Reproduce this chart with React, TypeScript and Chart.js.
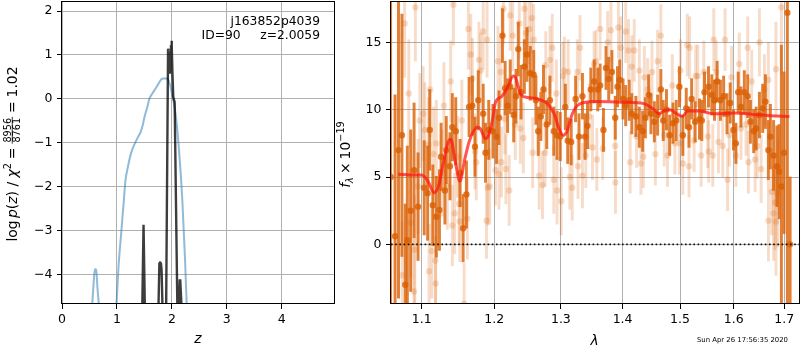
import React, { useEffect, useRef } from 'react';
import { Chart, registerables } from 'chart.js';
Chart.register(...registerables);

// ---------------- data ----------------
const Z_TICKS = [0, 1, 2, 3, 4];
const LOGP_TICKS = [-4, -3, -2, -1, 0, 1, 2];
const LAMBDA_TICKS = [1.1, 1.2, 1.3, 1.4, 1.5, 1.6, 1.7];
const FLUX_TICKS = [0, 5, 10, 15];

const Z_RANGE = [0, 4.95];
const LOGP_RANGE = [-4.677, 2.228];
const LAMBDA_RANGE = [1.0601, 1.7303];
const FLUX_RANGE = [-4.43, 18.07];

// log p(z) prior-ish curve (blue)
const PZ_Z = [0.54, 0.575, 0.595, 0.61, 0.625, 0.645, 0.685, 0.8, 0.985, 1.03, 1.076, 1.12, 1.155, 1.2, 1.246, 1.29, 1.337, 1.38, 1.43, 1.47, 1.5, 1.55, 1.59, 1.65, 1.7, 1.75, 1.805, 1.84, 1.915, 1.95, 1.976, 2.01, 2.05, 2.09, 2.13, 2.16, 2.19, 2.215, 2.24, 2.275];
const PZ_LOGP = [-4.9, -4.2, -3.92, -3.88, -3.92, -4.3, -4.9, null, -4.85, -3.8, -3.08, -2.4, -1.86, -1.55, -1.29, -1.12, -0.99, -0.88, -0.76, -0.6, -0.42, -0.2, 0.0, 0.13, 0.23, 0.33, 0.44, 0.46, 0.46, 0.38, 0.27, 0.05, -0.19, -0.6, -1.18, -1.7, -2.32, -3.0, -3.69, -4.9];

// log p(z) fit curve (black)
const CHI_Z = [1.46, 1.484, 1.492, 1.508, 1.6, 1.755, 1.772, 1.785, 1.8, 1.812, 1.83, 1.86, 1.895, 1.93, 1.936, 1.952, 1.964, 1.972, 1.984, 1.994, 2.0, 2.012, 2.025, 2.05, 2.1, 2.11, 2.125, 2.142, 2.152, 2.178];
const CHI_LOGP = [-4.8, -2.87, -2.87, -4.8, null, -4.8, -3.75, -3.73, -3.74, -3.9, -4.8, null, -4.8, 1.14, 1.1, 0.6, 1.05, 0.7, 1.2, 1.32, 1.2, 0.5, 0.04, -0.08, -4.8, null, -4.8, -4.14, -4.14, -4.8];

// spectrum 1 (dark)
const DARK_WAVE = [
  1.0596, 1.0653, 1.0697, 1.0741, 1.0784, 1.0811, 1.0855, 1.0899, 1.0951, 1.1032,
  1.1078, 1.1106, 1.1147, 1.1194, 1.1236, 1.1258, 1.1310, 1.1328, 1.1379, 1.1411,
  1.1458, 1.1518, 1.1560, 1.1606, 1.1643, 1.1689, 1.1726, 1.1772, 1.1842, 1.1875,
  1.1921, 1.1981, 1.2034, 1.2069, 1.2119, 1.2158, 1.2194, 1.2233, 1.2284, 1.2318,
  1.2352, 1.2393, 1.2442, 1.2482, 1.2531, 1.2582, 1.2616, 1.2651, 1.2691, 1.2731,
  1.2781, 1.2830, 1.2890, 1.2940, 1.2990, 1.3070, 1.3107, 1.3162, 1.3232, 1.3286,
  1.3341, 1.3383, 1.3422, 1.3476, 1.3530, 1.3589, 1.3627, 1.3682, 1.3724, 1.3768,
  1.3821, 1.3877, 1.3914, 1.3951, 1.4007, 1.4052, 1.4111, 1.4156, 1.4225, 1.4284,
  1.4341, 1.4388, 1.4445, 1.4485, 1.4544, 1.4601, 1.4658, 1.4700, 1.4757, 1.4814,
  1.4873, 1.4931, 1.4988, 1.5050, 1.5112, 1.5162, 1.5210, 1.5274, 1.5354, 1.5397,
  1.5447, 1.5521, 1.5583, 1.5633, 1.5683, 1.5745, 1.5806, 1.5870, 1.5931, 1.5993,
  1.6040, 1.6085, 1.6138, 1.6204, 1.6269, 1.6322, 1.6387, 1.6435, 1.6500, 1.6565,
  1.6619, 1.6678, 1.6718, 1.6783, 1.6850, 1.6895, 1.6941, 1.6994, 1.7063, 1.7119,
];
const DARK_FLUX = [
  5.0, 0.6, 7.0, 8.1, -3.0, 0.3, 2.5, 5.5, 2.8, 4.2,
  3.8, 8.5, 2.9, 2.05, 2.55, 6.5, 4.0, 7.0, 5.8, 8.7,
  8.4, 5.3, 1.2, 3.7, 10.2, 10.3, 7.25, 10.7, 9.7, 6.8,
  8.5, 8.4, 8.0, 9.4, 15.5, 11.6, 10.3, 11.7, 9.6, 11.0,
  14.5, 11.3, 13.2, 14.1, 12.7, 12.6, 10.7, 8.4, 9.5, 11.5,
  8.9, 10.7, 8.4, 8.1, 8.0, 10.2, 7.7, 7.6, 10.8, 8.0,
  11.0, 8.0, 8.8, 11.5, 12.1, 11.5, 11.8, 8.5, 13.1, 12.3,
  12.8, 9.4, 11.7, 12.2, 10.8, 10.3, 10.7, 9.7, 9.5, 8.7,
  8.4, 9.4, 11.1, 9.7, 9.1, 9.6, 11.5, 9.2, 10.0, 8.1,
  9.0, 9.2, 11.7, 8.1, 10.1, 8.7, 10.8, 9.1, 9.3, 9.2,
  11.3, 11.7, 11.1, 10.7, 12.1, 10.7, 11.0, 9.7, 10.5, 8.5,
  7.5, 11.3, 10.2, 11.3, 11.0, 9.1, 8.4, 8.6, 9.6, 10.1,
  10.6, 7.0, 8.0, 6.6, 5.8, 5.4, 4.3, 6.8, 17.2, 0.0,
];
const DARK_ERR = [
  15, 10.5, 11, 9, 6, 7, 6, 5, 4, 3.5,
  3.5, 3, 3, 3, 3, 2.5, 2.5, 2.5, 2.5, 2.5,
  2.5, 2.5, 2.5, 2.5, 2.2, 2.2, 2.2, 2.2, 2.2, 2.2,
  2.2, 2, 2, 2, 2, 2, 2, 2, 2, 2,
  2, 2, 2, 2, 2, 1.8, 1.8, 1.8, 1.8, 1.8,
  1.8, 1.8, 1.8, 1.8, 1.8, 1.7, 1.7, 1.7, 1.7, 1.7,
  1.7, 1.7, 1.7, 1.6, 1.6, 1.6, 1.6, 1.6, 1.6, 1.6,
  1.6, 1.6, 1.5, 1.5, 1.5, 1.5, 1.5, 1.5, 1.5, 1.5,
  1.5, 1.5, 1.5, 1.5, 1.5, 1.5, 1.5, 1.5, 1.5, 1.5,
  1.5, 1.5, 1.5, 1.5, 1.5, 1.5, 1.5, 1.5, 1.5, 1.5,
  1.5, 1.5, 1.5, 1.5, 1.5, 1.5, 1.5, 1.5, 1.5, 1.5,
  1.5, 1.5, 1.5, 1.6, 1.6, 1.6, 1.6, 1.6, 1.7, 1.8,
  2.0, 2.2, 2.4, 2.6, 3.0, 3.5, 10.5, 6, 22, 5,
];

// spectrum 2 (light)
const LIGHT_WAVE = [
  1.0745, 1.0776, 1.0829, 1.0855, 1.0899, 1.0908, 1.0916, 1.0951, 1.0974, 1.1018,
  1.1042, 1.1088, 1.1097, 1.1111, 1.1133, 1.1157, 1.1181, 1.1185, 1.1194, 1.1272,
  1.1296, 1.1342, 1.1389, 1.1411, 1.1425, 1.1444, 1.1481, 1.1504, 1.1514, 1.1542,
  1.1574, 1.1619, 1.1633, 1.1667, 1.1689, 1.1726, 1.1744, 1.1782, 1.1806, 1.1842,
  1.1889, 1.1897, 1.1907, 1.1935, 1.2019, 1.2054, 1.2069, 1.2094, 1.2104, 1.2134,
  1.2154, 1.2169, 1.2218, 1.2233, 1.2269, 1.2307, 1.2367, 1.2382, 1.2427, 1.2442,
  1.2467, 1.2516, 1.2552, 1.2567, 1.2582, 1.2666, 1.2716, 1.2755, 1.2766, 1.2830,
  1.2866, 1.2890, 1.2930, 1.2940, 1.3005, 1.3032, 1.3054, 1.3114, 1.3140, 1.3179,
  1.3260, 1.3270, 1.3302, 1.3341, 1.3395, 1.3448, 1.3503, 1.3529, 1.3562, 1.3573,
  1.3627, 1.3670, 1.3751, 1.3805, 1.3877, 1.3880, 1.3930, 1.3968, 1.4052, 1.4099,
  1.4128, 1.4156, 1.4197, 1.4237, 1.4284, 1.4312, 1.4353, 1.4371, 1.4428, 1.4503,
  1.4562, 1.4601, 1.4658, 1.4717, 1.4775, 1.4861, 1.4908, 1.4988, 1.5006, 1.5050,
  1.5130, 1.5162, 1.5173, 1.5255, 1.5285, 1.5322, 1.5385, 1.5434, 1.5508, 1.5525,
  1.5601, 1.5620, 1.5665, 1.5708, 1.5788, 1.5833, 1.5881, 1.5913, 1.5955, 1.6040,
  1.6105, 1.6138, 1.6237, 1.6269, 1.6283, 1.6348, 1.6415, 1.6455, 1.6500, 1.6534,
  1.6599, 1.6678, 1.6680, 1.6744, 1.6783, 1.6811, 1.6830, 1.6832, 1.6864, 1.6941,
];
const LIGHT_FLUX = [
  -2.3, 16.4, 11.2, 1.6, -3.5, -0.4, 17.6, 4.3, 9.2, 9.7,
  8.5, 7.4, -2.0, 11.5, -0.5, 6.7, -1.2, -2.9, 7.5, 5.3,
  10.3, 4.3, 12.1, 1.4, 17.8, 2.3, 6.5, 3.0, 1.7, 9.2,
  -4.4, 1.9, 16.0, 14.1, 12.3, 6.9, 6.1, 13.7, 12.9, 15.8,
  1.75, 15.2, 4.2, 4.3, 5.5, 13.6, 5.2, 12.8, 6.1, 17.5,
  9.3, 5.6, 4.0, 17.0, 15.5, 8.9, 16.4, 8.6, 7.9, 17.5,
  15.7, 16.0, 16.8, 6.8, 15.2, 5.1, 4.4, 6.8, 13.3, 13.7,
  14.6, 4.8, 11.2, 4.0, 3.2, 12.5, 12.9, 12.8, 5.0, 4.2,
  12.8, 5.8, 14.6, 5.1, 6.6, 9.5, 7.2, 13.4, 13.6, 6.3,
  16.0, 7.1, 15.0, 15.9, 7.3, 4.6, 16.1, 14.6, 15.8, 14.4,
  6.1, 13.2, 14.4, 8.0, 12.9, 6.0, 6.5, 12.4, 11.5, 12.8,
  6.7, 13.6, 15.5, 8.1, 6.6, 11.8, 7.5, 7.5, 12.9, 6.0,
  14.8, 5.8, 14.6, 7.7, 12.5, 12.5, 6.6, 12.8, 8.0, 6.9,
  6.6, 15.2, 12.8, 7.6, 7.3, 15.2, 4.8, 8.1, 12.4, 6.6,
  13.4, 8.6, 8.9, 14.6, 6.1, 12.1, 6.3, 7.3, 15.0, 5.6,
  11.5, 12.2, 1.76, 3.9, 2.3, 3.1, 13.0, 1.7, 3.8, 17.6,
];
const LIGHT_ERR = [
  4, 4, 4, 4, 4, 4, 4, 3.5, 3.5, 3.5,
  3.5, 3.5, 3.5, 3.5, 3.5, 3.5, 3.5, 3.5, 3.2, 3.2,
  3.2, 3.2, 3, 3, 3, 3, 3, 3, 3, 3,
  3, 3, 3, 3, 3, 2.8, 2.8, 2.8, 2.8, 2.8,
  2.8, 2.8, 2.8, 2.8, 2.6, 2.6, 2.6, 2.6, 2.6, 2.6,
  2.6, 2.6, 2.6, 2.6, 2.6, 2.6, 2.6, 2.6, 2.6, 2.6,
  2.6, 2.6, 2.6, 2.6, 2.6, 2.5, 2.5, 2.5, 2.5, 2.5,
  2.5, 2.5, 2.5, 2.5, 2.5, 2.5, 2.5, 2.4, 2.4, 2.4,
  2.4, 2.4, 2.4, 2.4, 2.4, 2.4, 2.4, 2.4, 2.3, 2.3,
  2.3, 2.3, 2.3, 2.3, 2.3, 2.3, 2.3, 2.3, 2.3, 2.3,
  2.3, 2.3, 2.3, 2.3, 2.3, 2.3, 2.3, 2.3, 2.3, 2.3,
  2.3, 2.3, 2.3, 2.3, 2.3, 2.3, 2.3, 2.3, 2.3, 2.3,
  2.3, 2.3, 2.3, 2.3, 2.3, 2.3, 2.3, 2.3, 2.3, 2.3,
  2.3, 2.3, 2.3, 2.3, 2.3, 2.3, 2.3, 2.3, 2.3, 2.3,
  2.3, 2.3, 2.3, 2.3, 2.3, 2.3, 2.4, 2.4, 2.5, 2.5,
  2.6, 2.8, 3.0, 3.2, 3.5, 3.5, 3.5, 4, 4, 5,
];

// best-fit template (red)
const MODEL_WAVE = [1.0695, 1.085, 1.1, 1.1087, 1.1163, 1.122, 1.1287, 1.1362, 1.139, 1.1448, 1.1515, 1.158, 1.1648, 1.1758, 1.18, 1.1877, 1.191, 1.1973, 1.202, 1.2112, 1.2205, 1.2275, 1.231, 1.2346, 1.2394, 1.249, 1.264, 1.279, 1.2894, 1.297, 1.3037, 1.31, 1.318, 1.329, 1.353, 1.401, 1.436, 1.451, 1.463, 1.47, 1.482, 1.494, 1.504, 1.514, 1.534, 1.5615, 1.602, 1.6366, 1.672, 1.7104];
const MODEL_FLUX = [5.2, 5.15, 5.15, 4.65, 3.83, 4.27, 6.0, 7.7, 7.8, 6.25, 4.68, 6.25, 7.7, 8.7, 8.6, 7.85, 8.0, 9.2, 10.55, 11.0, 11.8, 12.5, 12.4, 11.8, 11.1, 10.9, 10.8, 10.45, 9.7, 8.6, 8.1, 8.45, 9.7, 10.4, 10.6, 10.55, 10.45, 10.1, 9.7, 9.9, 10.0, 9.7, 9.5, 9.9, 9.9, 9.7, 9.75, 9.65, 9.55, 9.5];

const ZERO_LEVEL = 0;

const OBJ_NAME = 'j163852p4039';
const OBJ_INFO = 'ID=90     z=2.0059';
const TIMESTAMP = 'Sun Apr 26 17:56:35 2020';

// ---------------- helpers ----------------
const FAM = '"DejaVu Sans", "Liberation Sans", sans-serif';
const TICK_SIZE = 12.5;
const LABEL_SIZE = 13.9;
const GRID = '#b0b0b0';

const fmtMinus = (v: number) => (v < 0 ? '\u2212' + Math.abs(v) : String(v));

type Run = { t?: string; f?: string; dy?: number; w?: number; num?: string; den?: string };

function runWidth(ctx: CanvasRenderingContext2D, r: Run) {
  if (r.w !== undefined) return r.w;
  ctx.font = r.f as string;
  if (r.num !== undefined) return Math.max(ctx.measureText(r.num).width, ctx.measureText(r.den as string).width) + 2;
  return ctx.measureText(r.t as string).width;
}

function drawRich(ctx: CanvasRenderingContext2D, runs: Run[], bx: number, cy: number) {
  ctx.save();
  ctx.translate(bx, cy);
  ctx.rotate(-Math.PI / 2);
  const ws = runs.map((r) => runWidth(ctx, r));
  const total = ws.reduce((a, b) => a + b, 0);
  let x = -total / 2;
  ctx.fillStyle = '#000';
  ctx.textBaseline = 'alphabetic';
  ctx.textAlign = 'left';
  runs.forEach((r, i) => {
    if (r.num !== undefined) {
      ctx.font = r.f as string;
      const w = ws[i];
      ctx.textAlign = 'center';
      ctx.fillText(r.num, x + w / 2, -5.6);
      ctx.fillText(r.den as string, x + w / 2, 3.2);
      ctx.fillRect(x, -4.9, w, 0.8);
      ctx.textAlign = 'left';
    } else if (r.t) {
      ctx.font = r.f as string;
      ctx.fillText(r.t, x, -(r.dy || 0));
    }
    x += ws[i];
  });
  ctx.restore();
}

function frame(ctx: CanvasRenderingContext2D, a: any) {
  ctx.save();
  ctx.strokeStyle = '#000';
  ctx.lineWidth = 1;
  const l = Math.round(a.left) - 0.5;
  const t = Math.round(a.top) + 0.5;
  const r = Math.round(a.right) + 0.5;
  const b = Math.round(a.bottom) - 0.5;
  ctx.strokeRect(l, t, r - l, b - t);
  ctx.restore();
}

function axisCommon(ticksArr: number[], fmt: (v: number) => string) {
  return {
    offset: false,
    grid: { color: GRID, lineWidth: 1, tickColor: '#000', tickLength: 5, drawTicks: true, offset: false },
    border: { display: false },
    ticks: {
      color: '#000',
      font: { family: FAM, size: TICK_SIZE },
      autoSkip: false,
      maxRotation: 0,
      minRotation: 0,
      callback: (v: any) => fmt(Number(v)),
    },
    afterBuildTicks: (s: any) => {
      s.ticks = ticksArr.map((v) => ({ value: v }));
    },
  };
}

function leftConfig(): any {
  const S = LABEL_SIZE;
  const R = `${S}px ${FAM}`;
  const I = `italic ${S}px ${FAM}`;
  const SM = `${(S * 0.7).toFixed(2)}px ${FAM}`;
  const yRuns: Run[] = [
    { t: 'log', f: R }, { w: S * 0.17 }, { t: 'p', f: I }, { t: '(', f: R }, { t: 'z', f: I }, { t: ')', f: R },
    { w: S * 0.32 }, { t: '/', f: R }, { w: S * 0.32 }, { t: '\u03c7', f: I }, { t: '2', f: SM, dy: S * 0.42 },
    { w: S * 0.28 }, { t: '=', f: R }, { w: S * 0.28 }, { num: '8956', den: '8761', f: SM },
    { w: S * 0.28 }, { t: '=', f: R }, { w: S * 0.28 }, { t: '1.02', f: R },
  ];
  const plugin = {
    id: 'leftDeco',
    afterDraw(chart: any) {
      const ctx = chart.ctx as CanvasRenderingContext2D;
      const a = chart.chartArea;
      frame(ctx, a);
      ctx.save();
      ctx.fillStyle = '#000';
      ctx.textAlign = 'right';
      ctx.textBaseline = 'alphabetic';
      ctx.font = `12.3px ${FAM}`;
      ctx.fillText(OBJ_NAME, 320, 25);
      ctx.fillText(OBJ_INFO, 320, 39.3);
      ctx.textAlign = 'center';
      ctx.font = `italic ${S}px ${FAM}`;
      ctx.fillText('z', (a.left + a.right) / 2, 343.3);
      ctx.restore();
      drawRich(ctx, yRuns, 16.7, 154);
    },
  };
  const x = axisCommon(Z_TICKS, (v) => String(v));
  const y = axisCommon(LOGP_TICKS, fmtMinus);
  return {
    type: 'scatter',
    data: {
      datasets: [
        {
          data: CHI_Z.map((z, i) => ({ x: z, y: CHI_LOGP[i] })),
          showLine: true, pointRadius: 0, borderColor: 'rgba(0,0,0,0.76)', borderWidth: 2.4,
          spanGaps: false, clip: 0, order: 0, tension: 0,
        },
        {
          data: PZ_Z.map((z, i) => ({ x: z, y: PZ_LOGP[i] })),
          showLine: true, pointRadius: 0, borderColor: 'rgba(31,119,180,0.5)', borderWidth: 2,
          spanGaps: false, clip: 0, order: 1, cubicInterpolationMode: 'monotone',
        },
      ],
    },
    options: {
      animation: false,
      responsive: false,
      events: [],
      layout: { padding: { top: 1, right: 2, bottom: 0, left: 0 }, autoPadding: false },
      plugins: { legend: { display: false }, tooltip: { enabled: false } },
      scales: {
        x: {
          ...x, type: 'linear', min: Z_RANGE[0], max: Z_RANGE[1],
          ticks: { ...x.ticks, padding: 3.5 },
          afterFit: (s: any) => { s.height = 46; s.paddingLeft = 0; s.paddingRight = 0; },
        },
        y: {
          ...y, type: 'linear', min: LOGP_RANGE[0], max: LOGP_RANGE[1],
          ticks: { ...y.ticks, padding: 4.5 },
          afterFit: (s: any) => { s.width = 62; s.paddingTop = 0; s.paddingBottom = 0; },
        },
      },
    },
    plugins: [plugin],
  };
}

function rightConfig(): any {
  const S = LABEL_SIZE;
  const R = `${S}px ${FAM}`;
  const I = `italic ${S}px ${FAM}`;
  const SM = `${(S * 0.7).toFixed(2)}px ${FAM}`;
  const SMI = `italic ${(S * 0.7).toFixed(2)}px ${FAM}`;
  const yRuns: Run[] = [
    { t: 'f', f: I }, { t: '\u03bb', f: SMI, dy: -S * 0.2 }, { w: S * 0.22 }, { t: '\u00d7', f: R }, { w: S * 0.22 },
    { t: '10', f: R }, { t: '\u221219', f: SM, dy: S * 0.45 },
  ];
  const plugin = {
    id: 'rightDeco',
    afterDraw(chart: any) {
      const ctx = chart.ctx as CanvasRenderingContext2D;
      const a = chart.chartArea;
      frame(ctx, a);
      ctx.save();
      ctx.fillStyle = '#000';
      ctx.textAlign = 'center';
      ctx.textBaseline = 'alphabetic';
      ctx.font = `italic ${S}px ${FAM}`;
      ctx.fillText('\u03bb', (a.left + a.right) / 2 - 0.5, 345);
      ctx.textAlign = 'right';
      ctx.textBaseline = 'middle';
      ctx.font = `6.9px ${FAM}`;
      ctx.fillText(TIMESTAMP, 452, 340.5);
      ctx.restore();
      drawRich(ctx, yRuns, 14, 154.5);
    },
  };
  const dark = 'rgba(217,95,2,0.8)';
  const light = 'rgba(217,95,2,0.21)';
  const x = axisCommon(LAMBDA_TICKS, (v) => v.toFixed(1));
  const y = axisCommon(FLUX_TICKS, fmtMinus);
  return {
    type: 'scatter',
    data: {
      datasets: [
        {
          data: LAMBDA_RANGE.map((w) => ({ x: w, y: ZERO_LEVEL })),
          showLine: true, pointRadius: 0, borderColor: 'rgba(0,0,0,0.9)', borderWidth: 1.6,
          borderDash: [1.6, 2.6], clip: 0, order: 0,
        },
        {
          data: MODEL_WAVE.map((w, i) => ({ x: w, y: MODEL_FLUX[i] })),
          showLine: true, pointRadius: 0, borderColor: 'rgba(255,20,20,0.72)', borderWidth: 3,
          cubicInterpolationMode: 'monotone', clip: 0, order: 1,
        },
        {
          data: DARK_WAVE.map((w, i) => ({ x: w, y: DARK_FLUX[i] })),
          pointRadius: 3.2, pointBackgroundColor: dark, pointBorderWidth: 0, backgroundColor: dark,
          showLine: false, clip: 0, order: 2,
        },
        {
          type: 'bar',
          data: DARK_WAVE.map((w, i) => ({ x: w, y: [DARK_FLUX[i] - DARK_ERR[i], DARK_FLUX[i] + DARK_ERR[i]] })),
          backgroundColor: dark, borderWidth: 0, barThickness: 2.3, grouped: false, clip: 0, order: 3,
        },
        {
          data: LIGHT_WAVE.map((w, i) => ({ x: w, y: LIGHT_FLUX[i] })),
          pointRadius: 3.2, pointBackgroundColor: light, pointBorderWidth: 0, backgroundColor: light,
          showLine: false, clip: 0, order: 4,
        },
        {
          type: 'bar',
          data: LIGHT_WAVE.map((w, i) => ({ x: w, y: [LIGHT_FLUX[i] - LIGHT_ERR[i], LIGHT_FLUX[i] + LIGHT_ERR[i]] })),
          backgroundColor: light, borderWidth: 0, barThickness: 2.3, grouped: false, clip: 0, order: 5,
        },
      ],
    },
    options: {
      animation: false,
      responsive: false,
      events: [],
      layout: { padding: { top: 1, right: 1, bottom: 0, left: 0 }, autoPadding: false },
      plugins: { legend: { display: false }, tooltip: { enabled: false } },
      scales: {
        x: {
          ...x, type: 'logarithmic', min: LAMBDA_RANGE[0], max: LAMBDA_RANGE[1],
          ticks: { ...x.ticks, padding: 3.5 },
          afterFit: (s: any) => { s.height = 46; s.paddingLeft = 0; s.paddingRight = 0; },
        },
        y: {
          ...y, type: 'linear', min: FLUX_RANGE[0], max: FLUX_RANGE[1],
          ticks: { ...y.ticks, padding: 4.5 },
          afterFit: (s: any) => { s.width = 55; s.paddingTop = 0; s.paddingBottom = 0; },
        },
      },
    },
    plugins: [plugin],
  };
}

export default function App() {
  const leftRef = useRef<HTMLCanvasElement>(null);
  const rightRef = useRef<HTMLCanvasElement>(null);
  useEffect(() => {
    document.body.style.margin = '0';
    const c1 = new Chart(leftRef.current as HTMLCanvasElement, leftConfig());
    const c2 = new Chart(rightRef.current as HTMLCanvasElement, rightConfig());
    return () => {
      c1.destroy();
      c2.destroy();
    };
  }, []);
  return (
    <div style={{ position: 'fixed', left: 0, top: 0, width: 800, height: 350, background: '#fff' }}>
      <canvas ref={leftRef} width={336} height={350} style={{ position: 'absolute', left: 0, top: 0 }} />
      <canvas ref={rightRef} width={464} height={350} style={{ position: 'absolute', left: 336, top: 0 }} />
    </div>
  );
}
